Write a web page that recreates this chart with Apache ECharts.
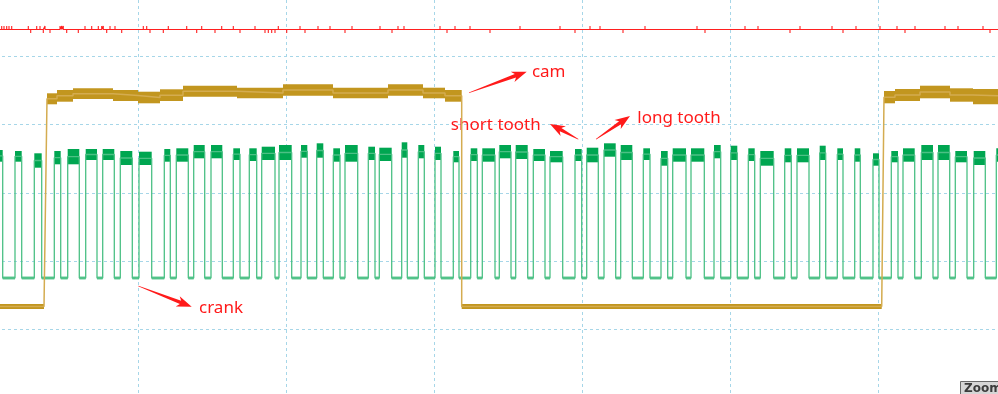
<!DOCTYPE html>
<html><head><meta charset="utf-8">
<script src="https://cdn.jsdelivr.net/npm/echarts@6/dist/echarts.min.js"></script>
<style>html,body{margin:0;padding:0;background:#fff;overflow:hidden}#c{width:998px;height:394px}</style>
</head><body><div id="c"></div>
<script>
// ---- DATA (x: sample time, y: signal level units) ----
const X_MAX = 1036;
const Y_MAX = 410;

// crank: transition times, signal starts high
const crankEdges = [
  12.7, 25, 31.7, 44.3, 51.7, 64.3, 70.7, 77.7, 89.3, 95.7, 107, 112.7, 124.3, 130.3, 142.3, 149, 161.7, 174.3, 180.3, 186.3, 198.3, 203.7, 214.7, 221, 232.3, 243.3, 250, 259.3,
  266.7, 271.7, 285, 289, 301.7, 311, 317.3, 326.7, 333.3, 343.3, 350, 355, 367.7, 378.3, 385, 389.3, 401.7, 411.7, 417.3, 428.3, 434.3, 445, 451, 463.3, 469, 480.7, 487.3, 492.3, 505, 509.3,
  521, 525.7, 537.7, 543.3, 555, 560, 572.7, 585, 591.7, 596.7, 608.3, 614, 625.7, 630.7, 642.3, 653.3, 660, 671, 677.7, 682.7, 696, 701, 714.3, 724, 730.7, 740.7, 747.3, 758.3,
  764.7, 770.3, 783.7, 794.7, 801.3, 807, 819, 829.7, 835.7, 847.3, 853, 864.7, 870.3, 883, 889, 901.3, 908, 913, 924.7, 931.3, 943, 948, 959.7, 965.3, 977, 983.7, 995.3, 1006.3
];
// noise envelope of each high plateau
const crankHighMax = [248, 247, 244.7, 247, 249, 249, 249, 247, 246.3, 249, 249.7, 253, 253, 249.7, 249.7, 251.3, 253, 253, 254.7, 249.7, 253, 251.3, 250.3, 255.7, 253, 251.3, 247, 249.7, 249.7, 253, 253, 249, 247, 249, 250.3, 254.7, 253, 249.7, 247, 249.7, 249.7, 253, 252.3, 249.7, 247, 249.7, 249.7, 252.3, 249.7, 249.7, 244.7, 247, 249.7, 253, 253, 247, 247, 249.7];
const crankHighMin = [236.3, 236.3, 230.3, 233.7, 233.7, 238, 238, 233, 233, 236.3, 236.3, 239.7, 239.7, 238, 237, 238, 238, 240.3, 240.3, 236.3, 236.3, 238, 237, 240.3, 239.7, 238, 235.7, 237, 236.3, 239.7, 239, 237, 235.7, 237, 235.7, 241.3, 238, 238, 232.3, 236.3, 236.3, 239.7, 238, 237, 232.3, 235.7, 235.7, 238, 238, 236.3, 232.3, 235.7, 236.3, 238, 238, 235.7, 233, 236.3];
const crankLowMax = 121.5;
const crankLowMin = 118.5;

// cam: noise envelope segments
const camX0 =  [0,   57,    67,    83,    123, 148,   170,   193,   247,   293,   343,   398,   433,   455,   471.7, 894,   905, 930,   960,   983];
const camX1 =  [54,  67,    83,    123,   148, 170,   193,   247,   293,   343,   398,   433,   455,   471.7, 891.7, 905,   930, 960,   983,   1036];
const camMax = [94,  304.7, 308,   309.7, 308, 306.3, 308.7, 312.3, 310.3, 313.7, 310.3, 313.7, 310.3, 308,   94,    307,   309, 312.3, 309.7, 309];
const camMin = [89,  293.7, 296.3, 299,   297, 294.7, 297,   301.3, 299.7, 302.3, 299.7, 302.3, 299.7, 296.3, 89,    294.7, 297, 299.7, 296.3, 293.7];

// red channel: baseline with glitches
const redBase = 368.5;
const redSpikeX = [11.7, 14, 16.7, 19, 21.7, 38.3, 40.7, 46.7, 50, 53.3, 55, 60, 70, 71.7, 73.3, 76.7, 88.3, 95, 101.7, 108.3, 111.7, 113.3, 116.7, 120, 125, 131.7, 153.3, 156.7, 160, 173.3, 178.3, 196.7, 206.7, 211.7, 225, 231.7, 243.3, 250, 265, 275, 278.3, 281.7, 285, 288.3, 296.7,
  310, 315, 328, 340, 355, 362, 390, 402, 408, 414, 450, 457, 465, 480, 500, 530, 570, 585, 600, 610, 633, 655, 707, 715, 755, 768, 800, 810, 842, 853, 866, 890, 907, 915, 925, 955, 968, 993, 1000];
const redSpikeV = [372, 372, 372, 372, 372, 372, 365, 372, 372, 365, 372, 365, 372, 372, 372, 365, 365, 372, 372, 372, 372, 372, 365, 372, 372, 365, 372, 372, 365, 365, 372, 372, 365, 372, 365, 372, 372, 365, 372, 365, 365, 365, 365, 372, 365,
  372, 365, 372, 372, 365, 372, 372, 365, 372, 372, 372, 365, 372, 372, 365, 372, 372, 365, 372, 372, 365, 372, 372, 365, 372, 372, 365, 372, 372, 365, 372, 372, 372, 365, 372, 372, 372, 372, 365];

// annotations
const noteText = ['cam', 'short tooth', 'long tooth', 'crank'];
const noteX = [558.7, 505.8, 689, 231];
const noteY = [326, 273, 280, 90];
const arrowX0 = [479, 588.3, 606, 148.3];
const arrowY0 = [305.3, 258.7, 258.7, 112];
const arrowX1 = [536.7, 560, 640, 201.7];
const arrowY1 = [326.3, 274, 282, 91.3];

// ---- BUILD ----
const crankHi = [], crankLo = [], crankTrace = [];
{
  let start = 0;
  for (let i = 0; i <= crankEdges.length; i++) {
    const end = i < crankEdges.length ? crankEdges[i] : X_MAX;
    let mid;
    if (i % 2 === 0) {
      const k = i / 2;
      crankHi.push([start, end, crankHighMax[k], crankHighMin[k]]);
      mid = (crankHighMax[k] + crankHighMin[k]) / 2;
    } else {
      crankLo.push([start, end, crankLowMax, crankLowMin]);
      mid = (crankLowMax + crankLowMin) / 2;
    }
    crankTrace.push([start, mid], [end, mid]);
    start = end;
  }
}
const camBands = [], camTrace = [];
camX0.forEach((x0, i) => {
  camBands.push([x0, camX1[i], camMax[i], camMin[i]]);
  const mid = (camMax[i] + camMin[i]) / 2;
  camTrace.push([x0, mid], [camX1[i], mid]);
});
const redTrace = [[0, redBase]];
redSpikeX.forEach((x, i) => { redTrace.push([x, redBase], [x, redSpikeV[i]], [x, redBase]); });
redTrace.push([X_MAX, redBase]);
const notes = noteText.map((t, i) => ({ value: [noteX[i], noteY[i]], name: t }));
const arrows = arrowX0.map((x, i) => [x, arrowY0[i], arrowX1[i], arrowY1[i]]);

function rectRenderer(fill) {
  return function (params, api) {
    const p0 = api.coord([api.value(0), api.value(2)]);
    const p1 = api.coord([api.value(1), api.value(3)]);
    return { type: 'rect', shape: { x: p0[0], y: p0[1], width: p1[0] - p0[0], height: p1[1] - p0[1] }, style: { fill: fill } };
  };
}
function arrowRenderer(params, api) {
  const a = api.coord([api.value(0), api.value(1)]);
  const b = api.coord([api.value(2), api.value(3)]);
  const dx = b[0] - a[0], dy = b[1] - a[1];
  const L = Math.sqrt(dx * dx + dy * dy);
  const ux = dx / L, uy = dy / L, nx = -uy, ny = ux;
  const hl = 14, hw = 5.5, tw = 1.8;
  const P = (s, t) => [a[0] + ux * s + nx * t, a[1] + uy * s + ny * t];
  return { type: 'polygon', shape: { points: [P(0, 0.3), P(L - hl + 2, tw), P(L - hl - 1, hw), P(L, 0), P(L - hl - 1, -hw), P(L - hl + 2, -tw), P(0, -0.3)] }, style: { fill: '#ff1a1a' } };
}
function noteRenderer(params, api) {
  const p = api.coord([api.value(0), api.value(1)]);
  return { type: 'text', style: { text: noteText[params.dataIndex], x: p[0], y: p[1], fill: '#ff1a1a', font: '17px "Noto Sans"', align: 'center', verticalAlign: 'middle', textAlign: 'center', textVerticalAlign: 'middle' } };
}

const gridLine = { show: true, lineStyle: { color: '#a6d6e8', type: [3, 3], width: 1 } };
const chart = echarts.init(document.getElementById('c'), null, { renderer: 'canvas' });
chart.setOption({
  animation: false,
  backgroundColor: '#ffffff',
  grid: { left: -10, top: -12, width: X_MAX, height: Y_MAX, containLabel: false, outerBoundsMode: 'none' },
  xAxis: { type: 'value', min: 0, max: X_MAX, interval: 148, axisLine: { show: false }, axisTick: { show: false }, axisLabel: { show: false }, splitLine: gridLine },
  yAxis: { type: 'value', min: 0, max: Y_MAX, interval: Y_MAX / 6, axisLine: { show: false }, axisTick: { show: false }, axisLabel: { show: false }, splitLine: gridLine },
  series: [
    { type: 'line', data: redTrace, showSymbol: false, lineStyle: { color: '#ff1f1f', width: 1.1 }, silent: true },
    { type: 'line', data: crankTrace, showSymbol: false, lineStyle: { color: '#4cc085', width: 1.3 }, silent: true },
    { type: 'custom', data: crankHi, renderItem: rectRenderer('#00a651'), encode: { x: [0, 1], y: [2, 3] }, silent: true },
    { type: 'custom', data: crankLo, renderItem: rectRenderer('rgba(0,166,81,0.6)'), encode: { x: [0, 1], y: [2, 3] }, silent: true },
    { type: 'line', data: camTrace, showSymbol: false, lineStyle: { color: '#d4ac50', width: 1.5 }, silent: true },
    { type: 'custom', data: camBands, renderItem: rectRenderer('#c2961f'), encode: { x: [0, 1], y: [2, 3] }, silent: true },
    { type: 'custom', data: arrows, renderItem: arrowRenderer, encode: { x: [0, 2], y: [1, 3] }, silent: true },
    { type: 'custom', data: notes, renderItem: noteRenderer, encode: { x: 0, y: 1 }, silent: true }
  ],
  graphic: [
    { type: 'rect', left: 960, top: 381, shape: { width: 60, height: 18 }, style: { fill: '#d6d6d6', stroke: '#6a6a6a', lineWidth: 1 } },
    { type: 'text', left: 964, top: 383, style: { text: 'Zoom Out', fill: '#3c3c3c', font: 'bold 12px "DejaVu Sans"' } }
  ]
});
</script>
</body></html>
